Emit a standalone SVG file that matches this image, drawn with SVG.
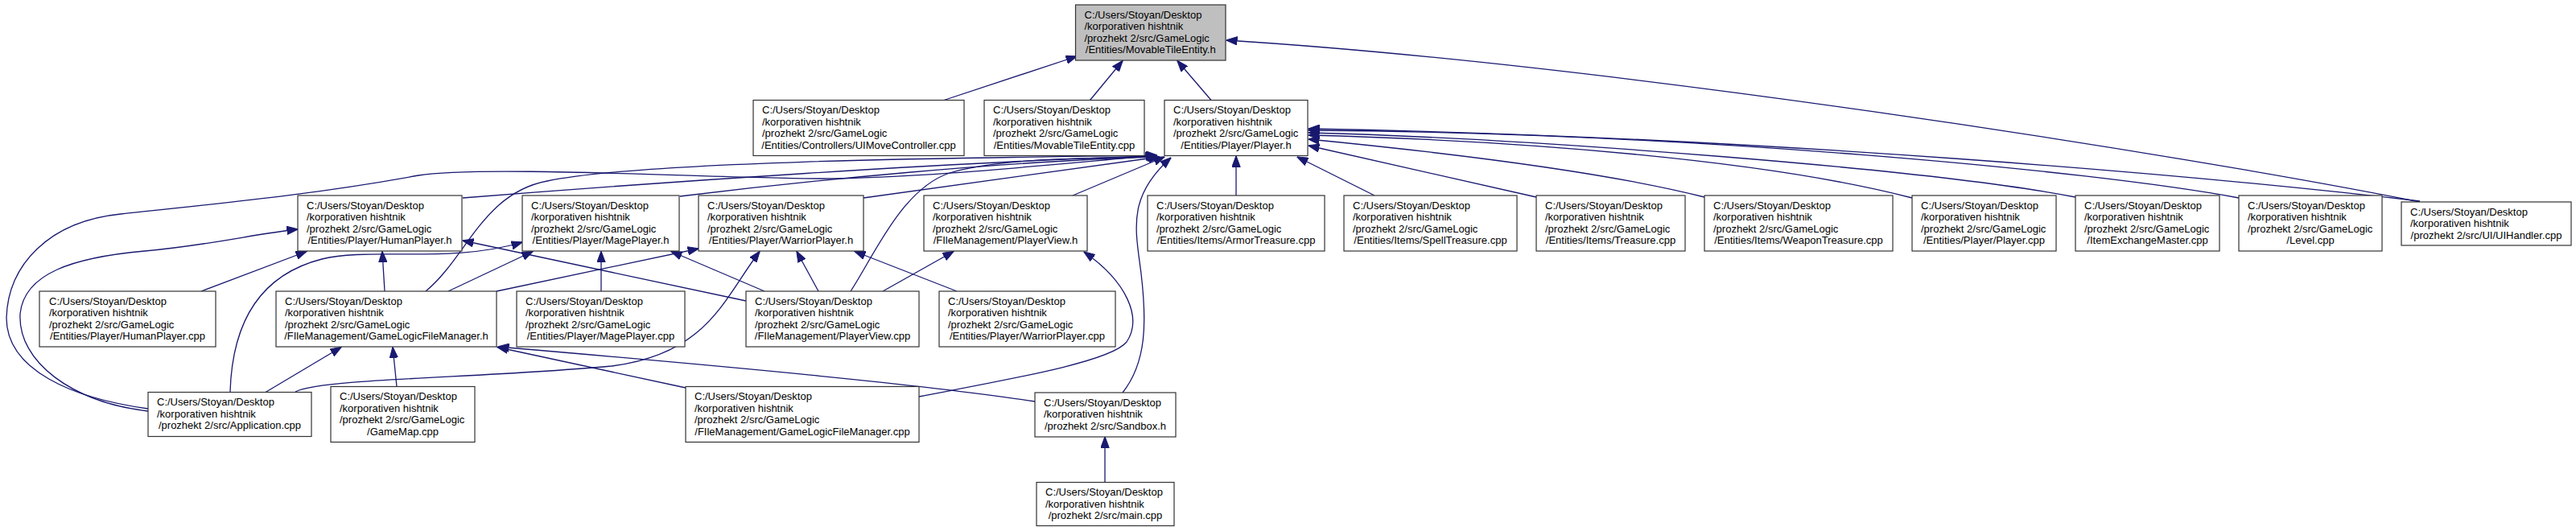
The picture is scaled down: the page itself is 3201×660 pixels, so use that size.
<svg xmlns="http://www.w3.org/2000/svg" width="3201" height="660" viewBox="0 0 3201 660">
<style>
.n rect{fill:#fff;stroke:#333;stroke-width:1.2}
.n text{font-family:"Liberation Sans",Arial,sans-serif;font-size:13px;fill:#000}
.n text.c{text-anchor:middle}
#root rect{fill:#bfbfbf}
#edges path{fill:none;stroke:#191970;stroke-width:1.3;marker-end:url(#ah)}
</style>
<defs>
<marker id="ah" viewBox="0 0 14 11" markerWidth="14" markerHeight="11" refX="13.5" refY="5.5" orient="auto" markerUnits="userSpaceOnUse">
<path d="M0,0.3 L14,5.5 L0,10.7 Z" fill="#191970" stroke="#191970" stroke-width="1"/>
</marker>
</defs>
<rect x="0" y="0" width="3201" height="660" fill="#fff"/>
<g id="edges">
<path d="M1173,124.5 L1338,70"/>
<path d="M1354.5,124.5 L1395,75.5"/>
<path d="M1505,124.5 L1463,75.5"/>
<path d="M3007,251 C2700,190 2000,80 1524,50"/>
<path d="M1536,243 L1536,194"/>
<path d="M1708,243 L1612,195"/>
<path d="M1909,245 L1626,181"/>
<path d="M2118,245 C2000,215 1800,190 1626,173"/>
<path d="M2376,246 C2200,200 1900,175 1626,168"/>
<path d="M2579,245 C2400,210 1900,172 1626,165"/>
<path d="M2782,246 C2600,212 2100,165 1626,162"/>
<path d="M3007,250 C2750,220 2200,170 1626,160"/>
<path d="M575,246 C800,228 1200,200 1438,194"/>
<path d="M845,244 C1000,225 1250,200 1439,195"/>
<path d="M1073,246 L1441,195"/>
<path d="M1333,243 L1447,195"/>
<path d="M529,362 C580,320 600,240 680,225 C800,200 1200,196 1438,193"/>
<path d="M184,508 C90,495 8,460 8,395 C10,330 60,275 150,266 C300,250 400,240 520,218 C600,205 900,222 1020,222 C1140,222 1300,205 1437,193"/>
<path d="M1057,362 C1085,320 1120,235 1180,215 C1240,197 1350,196 1440,195"/>
<path d="M1395,488 C1425,450 1425,400 1418,340 C1411,285 1400,245 1455,196"/>
<path d="M250,362 L381,312.5"/>
<path d="M478,362 L475,312.5"/>
<path d="M184,511 C90,500 22,450 25,390 C30,340 90,320 180,312 C260,305 320,290 370,285"/>
<path d="M927,374 L575,299"/>
<path d="M557,362 L662,312.5"/>
<path d="M747,362 L747,312.5"/>
<path d="M950,362 L834,312.5"/>
<path d="M286,487 C288,420 310,345 400,322 C460,307 560,328 649,301"/>
<path d="M617,362 L868,309"/>
<path d="M367,487 C400,470 600,470 760,455 C880,440 900,370 944,312.5"/>
<path d="M1017,362 L990,312.5"/>
<path d="M1189,362 L1062,312.5"/>
<path d="M1097,362 L1185,312.5"/>
<path d="M1142,493 C1250,472 1380,450 1400,425 C1420,395 1400,350 1347,313"/>
<path d="M330,487.5 L424,431.5"/>
<path d="M493,480.5 L488,431.5"/>
<path d="M852,482 L618,431.5"/>
<path d="M1286,499 C1150,478 900,455 619,431"/>
<path d="M1373,599.5 L1373,543"/>
</g>
<g id="root" class="n"><rect x="1336.5" y="6" width="186.5" height="69"/><text x="1347.5" y="22.5">C:/Users/Stoyan/Desktop</text><text x="1347.5" y="37">/korporativen hishtnik</text><text x="1347.5" y="51.5">/prozhekt 2/src/GameLogic</text><text class="c" x="1429.75" y="66">/Entities/MovableTileEntity.h</text></g>
<g id="uimovecontroller_cpp" class="n"><rect x="936" y="124.5" width="262" height="69"/><text x="947" y="141">C:/Users/Stoyan/Desktop</text><text x="947" y="155.5">/korporativen hishtnik</text><text x="947" y="170">/prozhekt 2/src/GameLogic</text><text class="c" x="1067" y="184.5">/Entities/Controllers/UIMoveController.cpp</text></g>
<g id="movabletileentity_cpp" class="n"><rect x="1223" y="124.5" width="199" height="69"/><text x="1234" y="141">C:/Users/Stoyan/Desktop</text><text x="1234" y="155.5">/korporativen hishtnik</text><text x="1234" y="170">/prozhekt 2/src/GameLogic</text><text class="c" x="1322.5" y="184.5">/Entities/MovableTileEntity.cpp</text></g>
<g id="player_h" class="n"><rect x="1447" y="124.5" width="178" height="69"/><text x="1458" y="141">C:/Users/Stoyan/Desktop</text><text x="1458" y="155.5">/korporativen hishtnik</text><text x="1458" y="170">/prozhekt 2/src/GameLogic</text><text class="c" x="1536" y="184.5">/Entities/Player/Player.h</text></g>
<g id="humanplayer_h" class="n"><rect x="370" y="243" width="204" height="69"/><text x="381" y="259.5">C:/Users/Stoyan/Desktop</text><text x="381" y="274">/korporativen hishtnik</text><text x="381" y="288.5">/prozhekt 2/src/GameLogic</text><text class="c" x="472" y="303">/Entities/Player/HumanPlayer.h</text></g>
<g id="mageplayer_h" class="n"><rect x="649" y="243" width="195" height="69"/><text x="660" y="259.5">C:/Users/Stoyan/Desktop</text><text x="660" y="274">/korporativen hishtnik</text><text x="660" y="288.5">/prozhekt 2/src/GameLogic</text><text class="c" x="746.5" y="303">/Entities/Player/MagePlayer.h</text></g>
<g id="warriorplayer_h" class="n"><rect x="868" y="243" width="205" height="69"/><text x="879" y="259.5">C:/Users/Stoyan/Desktop</text><text x="879" y="274">/korporativen hishtnik</text><text x="879" y="288.5">/prozhekt 2/src/GameLogic</text><text class="c" x="970.5" y="303">/Entities/Player/WarriorPlayer.h</text></g>
<g id="playerview_h" class="n"><rect x="1148" y="243" width="203" height="69"/><text x="1159" y="259.5">C:/Users/Stoyan/Desktop</text><text x="1159" y="274">/korporativen hishtnik</text><text x="1159" y="288.5">/prozhekt 2/src/GameLogic</text><text class="c" x="1249.5" y="303">/FIleManagement/PlayerView.h</text></g>
<g id="armortreasure_cpp" class="n"><rect x="1426" y="243" width="220" height="69"/><text x="1437" y="259.5">C:/Users/Stoyan/Desktop</text><text x="1437" y="274">/korporativen hishtnik</text><text x="1437" y="288.5">/prozhekt 2/src/GameLogic</text><text class="c" x="1536" y="303">/Entities/Items/ArmorTreasure.cpp</text></g>
<g id="spelltreasure_cpp" class="n"><rect x="1670" y="243" width="215" height="69"/><text x="1681" y="259.5">C:/Users/Stoyan/Desktop</text><text x="1681" y="274">/korporativen hishtnik</text><text x="1681" y="288.5">/prozhekt 2/src/GameLogic</text><text class="c" x="1777.5" y="303">/Entities/Items/SpellTreasure.cpp</text></g>
<g id="treasure_cpp" class="n"><rect x="1909" y="243" width="185" height="69"/><text x="1920" y="259.5">C:/Users/Stoyan/Desktop</text><text x="1920" y="274">/korporativen hishtnik</text><text x="1920" y="288.5">/prozhekt 2/src/GameLogic</text><text class="c" x="2001.5" y="303">/Entities/Items/Treasure.cpp</text></g>
<g id="weapontreasure_cpp" class="n"><rect x="2118" y="243" width="234" height="69"/><text x="2129" y="259.5">C:/Users/Stoyan/Desktop</text><text x="2129" y="274">/korporativen hishtnik</text><text x="2129" y="288.5">/prozhekt 2/src/GameLogic</text><text class="c" x="2235" y="303">/Entities/Items/WeaponTreasure.cpp</text></g>
<g id="player_cpp" class="n"><rect x="2376" y="243" width="179" height="69"/><text x="2387" y="259.5">C:/Users/Stoyan/Desktop</text><text x="2387" y="274">/korporativen hishtnik</text><text x="2387" y="288.5">/prozhekt 2/src/GameLogic</text><text class="c" x="2465.5" y="303">/Entities/Player/Player.cpp</text></g>
<g id="itemexchangemaster_cpp" class="n"><rect x="2579" y="243" width="179" height="69"/><text x="2590" y="259.5">C:/Users/Stoyan/Desktop</text><text x="2590" y="274">/korporativen hishtnik</text><text x="2590" y="288.5">/prozhekt 2/src/GameLogic</text><text class="c" x="2668.5" y="303">/ItemExchangeMaster.cpp</text></g>
<g id="level_cpp" class="n"><rect x="2782" y="243" width="178" height="69"/><text x="2793" y="259.5">C:/Users/Stoyan/Desktop</text><text x="2793" y="274">/korporativen hishtnik</text><text x="2793" y="288.5">/prozhekt 2/src/GameLogic</text><text class="c" x="2871" y="303">/Level.cpp</text></g>
<g id="uihandler_cpp" class="n"><rect x="2984" y="251" width="211" height="54"/><text x="2995" y="267.5">C:/Users/Stoyan/Desktop</text><text x="2995" y="282">/korporativen hishtnik</text><text class="c" x="3089.5" y="296.5">/prozhekt 2/src/UI/UIHandler.cpp</text></g>
<g id="humanplayer_cpp" class="n"><rect x="49" y="362" width="219" height="69"/><text x="61" y="378.5">C:/Users/Stoyan/Desktop</text><text x="61" y="393">/korporativen hishtnik</text><text x="61" y="407.5">/prozhekt 2/src/GameLogic</text><text class="c" x="158.5" y="422">/Entities/Player/HumanPlayer.cpp</text></g>
<g id="gamelogicfilemanager_h" class="n"><rect x="343" y="362" width="274" height="69"/><text x="354" y="378.5">C:/Users/Stoyan/Desktop</text><text x="354" y="393">/korporativen hishtnik</text><text x="354" y="407.5">/prozhekt 2/src/GameLogic</text><text class="c" x="480" y="422">/FIleManagement/GameLogicFileManager.h</text></g>
<g id="mageplayer_cpp" class="n"><rect x="642" y="362" width="209" height="69"/><text x="653" y="378.5">C:/Users/Stoyan/Desktop</text><text x="653" y="393">/korporativen hishtnik</text><text x="653" y="407.5">/prozhekt 2/src/GameLogic</text><text class="c" x="746.5" y="422">/Entities/Player/MagePlayer.cpp</text></g>
<g id="playerview_cpp" class="n"><rect x="927" y="362" width="215" height="69"/><text x="938" y="378.5">C:/Users/Stoyan/Desktop</text><text x="938" y="393">/korporativen hishtnik</text><text x="938" y="407.5">/prozhekt 2/src/GameLogic</text><text class="c" x="1034.5" y="422">/FIleManagement/PlayerView.cpp</text></g>
<g id="warriorplayer_cpp" class="n"><rect x="1167" y="362" width="219" height="69"/><text x="1178" y="378.5">C:/Users/Stoyan/Desktop</text><text x="1178" y="393">/korporativen hishtnik</text><text x="1178" y="407.5">/prozhekt 2/src/GameLogic</text><text class="c" x="1276.5" y="422">/Entities/Player/WarriorPlayer.cpp</text></g>
<g id="application_cpp" class="n"><rect x="184" y="487.5" width="203" height="55"/><text x="195" y="504">C:/Users/Stoyan/Desktop</text><text x="195" y="518.5">/korporativen hishtnik</text><text class="c" x="285.5" y="533">/prozhekt 2/src/Application.cpp</text></g>
<g id="gamemap_cpp" class="n"><rect x="411" y="480.5" width="179" height="69"/><text x="422" y="497">C:/Users/Stoyan/Desktop</text><text x="422" y="511.5">/korporativen hishtnik</text><text x="422" y="526">/prozhekt 2/src/GameLogic</text><text class="c" x="500.5" y="540.5">/GameMap.cpp</text></g>
<g id="gamelogicfilemanager_cpp" class="n"><rect x="852" y="480.5" width="290" height="69"/><text x="863" y="497">C:/Users/Stoyan/Desktop</text><text x="863" y="511.5">/korporativen hishtnik</text><text x="863" y="526">/prozhekt 2/src/GameLogic</text><text class="c" x="997" y="540.5">/FIleManagement/GameLogicFileManager.cpp</text></g>
<g id="sandbox_h" class="n"><rect x="1286" y="488" width="175" height="55"/><text x="1297" y="504.5">C:/Users/Stoyan/Desktop</text><text x="1297" y="519">/korporativen hishtnik</text><text class="c" x="1373.5" y="533.5">/prozhekt 2/src/Sandbox.h</text></g>
<g id="main_cpp" class="n"><rect x="1288" y="599.5" width="171" height="54"/><text x="1299" y="616">C:/Users/Stoyan/Desktop</text><text x="1299" y="630.5">/korporativen hishtnik</text><text class="c" x="1373.5" y="645">/prozhekt 2/src/main.cpp</text></g>
</svg>
